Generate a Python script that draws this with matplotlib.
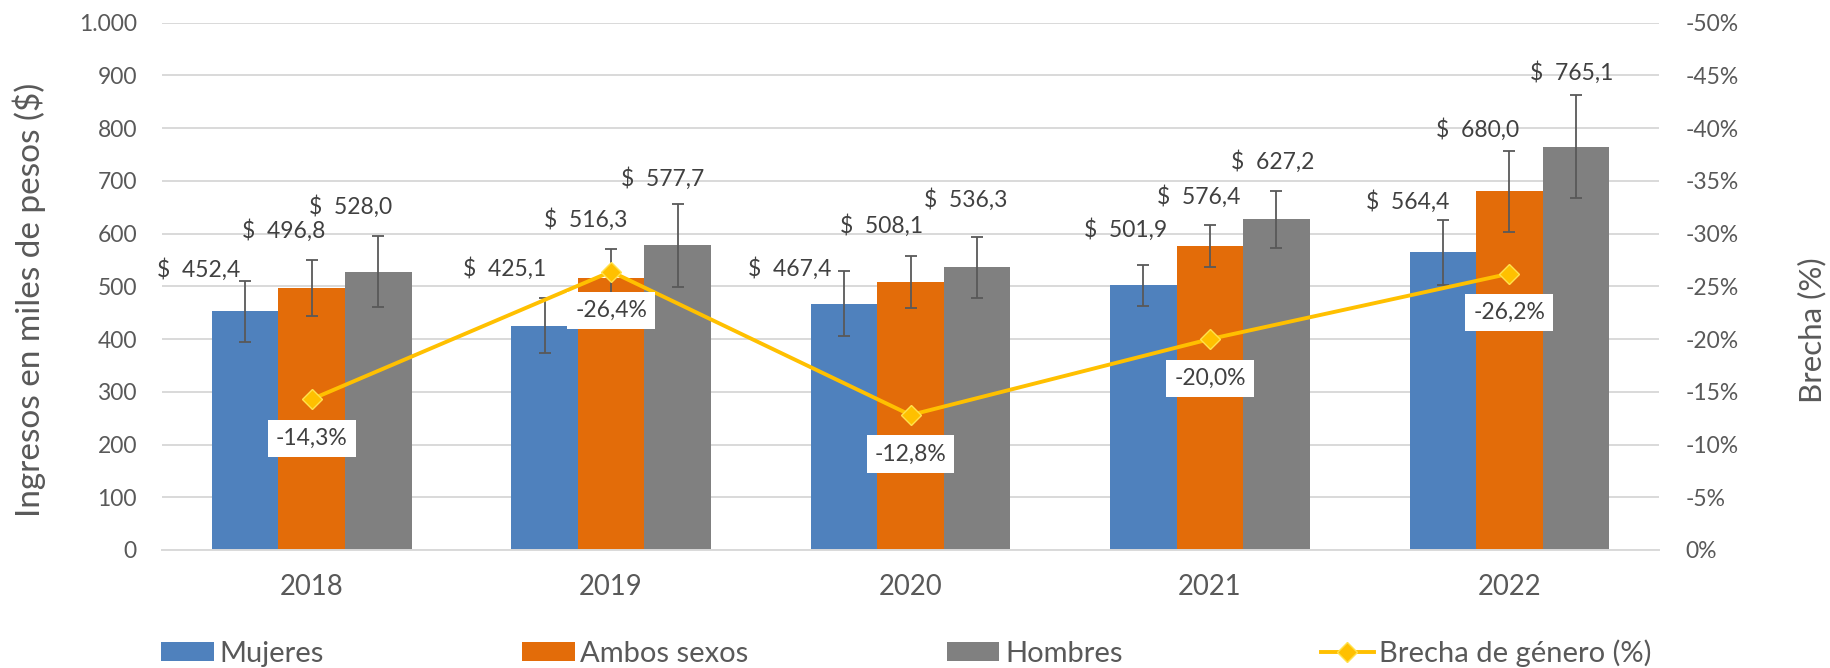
import numpy as np
import matplotlib
matplotlib.use("Agg")
import matplotlib.pyplot as plt

plt.rcParams['font.family'] = ['Lato', 'DejaVu Sans']

# data
years = ["2018", "2019", "2020", "2021", "2022"]
mujeres = [452.4, 425.1, 467.4, 501.9, 564.4]
ambos = [496.8, 516.3, 508.1, 576.4, 680.0]
hombres = [528.0, 577.7, 536.3, 627.2, 765.1]
err_mujeres = [58, 52, 61, 39, 61]
err_ambos = [53, 55, 49, 40, 77]
err_hombres = [67, 78, 58, 54, 98]
brecha = [-14.3, -26.4, -12.8, -20.0, -26.2]
series_names = ["Mujeres", "Ambos sexos", "Hombres"]
line_name = "Brecha de género (%)"

# label nudges in pixels (dx, dy above error bar top), hand placed like in excel
nudges = [
    [(-47, 11), (-40, 30), (-54, 3), (-18, 35), (-35, 19)],
    [(-28, 30), (-25, 29), (-29, 31), (-11, 28), (-32, 21)],
    [(-28, 30), (-15, 26), (-11, 37), (-4, 29), (-4, 22)],
]

colors = ["#4F81BD", "#E36C09", "#808080"]
txt = "#595959"
lbl = "#404040"
grid_c = "#D9D9D9"
fs = 16.5

fig = plt.figure(figsize=(18.3, 6.68), dpi=100)
ax = fig.add_axes([162 / 1830, 1 - 550 / 668, (1659 - 162) / 1830, (550 - 22.7) / 668])

x = np.arange(len(years))
w = 1 / 4.5
vals = [mujeres, ambos, hombres]
errs = [err_mujeres, err_ambos, err_hombres]
bars = []
for i in range(3):
    xs = x + (i - 1) * w
    b = ax.bar(xs, vals[i], w, color=colors[i], label=series_names[i], zorder=2)
    bars.append(b)
    ax.errorbar(xs, vals[i], yerr=errs[i], fmt="none", ecolor="#595959",
                elinewidth=1.3, capsize=4.5, capthick=1.3, zorder=3)
    for j in range(len(years)):
        s = "$  " + f"{vals[i][j]:.1f}".replace(".", ",")
        ax.annotate(s, (xs[j], vals[i][j] + errs[i][j]), xytext=nudges[i][j],
                    textcoords="offset pixels", ha="center", va="center",
                    fontsize=fs, color=lbl, zorder=4)

ax.set_xlim(-0.5, len(years) - 0.5)
ax.set_ylim(0, 1000)
ax.set_yticks(np.arange(0, 1001, 100))
ax.set_yticklabels([f"{int(v):,}".replace(",", ".") for v in np.arange(0, 1001, 100)])
ax.set_xticks(x)
ax.set_xticklabels(years)
ax.tick_params(axis="y", length=0, pad=18, labelsize=fs, labelcolor=txt)
ax.tick_params(axis="x", length=0, pad=17, labelsize=19.8, labelcolor=txt)
ax.yaxis.grid(True, color=grid_c, lw=1.4)
ax.set_axisbelow(True)
for sp in ["top", "right", "left"]:
    ax.spines[sp].set_visible(False)
ax.spines["bottom"].set_color(grid_c)
ax.spines["bottom"].set_linewidth(1.4)
ax.set_ylabel("Ingresos en miles de pesos ($)", fontsize=24, color=txt, va="center")
ax.yaxis.set_label_coords((29 - 162) / 1497, 0.475)

ax2 = ax.twinx()
ax2.set_ylim(0, -50)
ax2.set_yticks(np.arange(0, -51, -5))
ax2.set_yticklabels([f"{int(v)}%" for v in np.arange(0, -51, -5)])
ax2.tick_params(axis="y", length=0, pad=19, labelsize=fs, labelcolor=txt)
for sp in ax2.spines.values():
    sp.set_visible(False)
line, = ax2.plot(x, brecha, color="#FFC000", lw=2.8, marker="D", ms=10.5,
                 mfc="#FFC000", mec="#FFE14D", mew=1, label=line_name, zorder=5)
for j in range(len(years)):
    s = f"{brecha[j]:.1f}".replace(".", ",") + "%"
    ax2.annotate(s, (x[j], brecha[j]), xytext=(0, -39), textcoords="offset pixels",
                 ha="center", va="center", fontsize=fs, color=lbl, zorder=6,
                 bbox=dict(boxstyle="square,pad=0.35", fc="white", ec="none"))
ax2.set_ylabel("Brecha (%)", fontsize=22.5, color=txt, rotation=90, va="center")
ax2.yaxis.set_label_coords((1812 - 162) / 1497, 0.417)

handles = bars + [line]
labels = series_names + [line_name]
fig.legend(handles, labels, ncol=4, loc="center left",
           bbox_to_anchor=(161 / 1830, 1 - 653 / 668), frameon=False,
           fontsize=21, labelcolor=txt, handlelength=1.8, handleheight=0.6,
           handletextpad=0.2, columnspacing=6.8, borderpad=0, borderaxespad=0)

fig.savefig("out.png", dpi=100)
